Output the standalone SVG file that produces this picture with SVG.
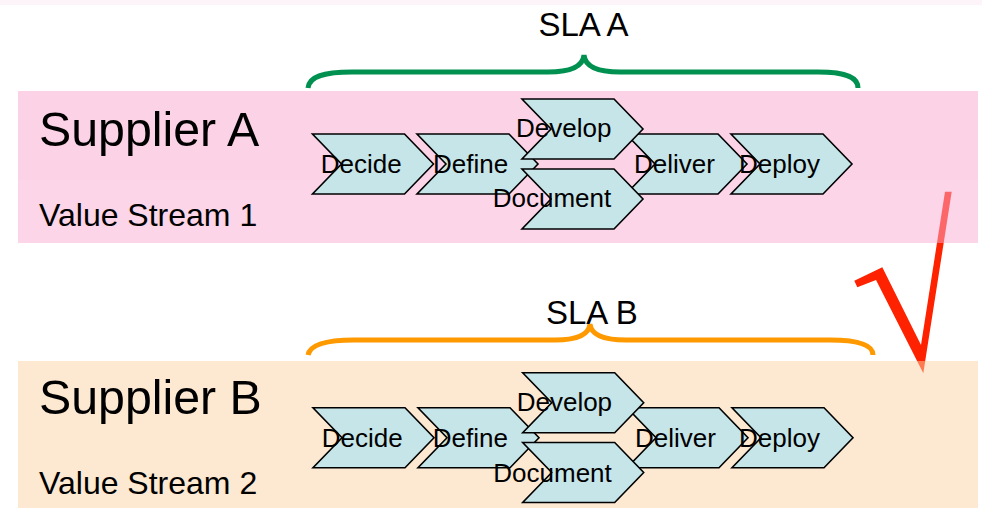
<svg xmlns="http://www.w3.org/2000/svg" width="982" height="508" viewBox="0 0 982 508">
  <defs>
    <style>
      .txt { font-family: "Liberation Sans", Arial, sans-serif; fill: #000; }
      .big { font-size: 48.3px; }
      .mid { font-size: 32px; }
      .sla { font-size: 33px; }
      .step { font-size: 26px; }
      .chev { fill: #c5e5e8; stroke: #000; stroke-width: 1.6; stroke-linejoin: miter; }
      .brace { fill: none; stroke-width: 5; stroke-linecap: butt; }
    </style>
    <!-- process step: 92 wide body, 29 deep point/notch, 60 high -->
    <polygon id="chevron" points="0,0 92,0 121,30 92,60 0,60 29,30"/>
  </defs>

  <rect x="0" y="0" width="982" height="508" fill="#ffffff"/>
  <rect x="0" y="0" width="982" height="5" fill="#fdf4f9"/>

  <!-- tick mark, drawn first so the translucent bands tint it -->
  <g id="tick">
    <polygon fill="#ff2200" points="854.3,280.7 882.3,267.3 921,345 945,191.7 951.7,191.7 923.3,373.3 876,280 857.3,287.3"/>
  </g>

  <!-- swimlane bands -->
  <g id="lane-a">
    <rect x="18" y="91" width="960" height="152" fill="#f9abd1" fill-opacity="0.5"/>
    <rect x="18" y="91" width="960" height="89" fill="#f2a0c8" fill-opacity="0.04"/>
    <text class="txt big" x="39" y="145.7">Supplier A</text>
    <text class="txt mid" x="39" y="225.7">Value Stream 1</text>
  </g>
  <g id="lane-b">
    <rect x="18" y="361" width="960" height="147" fill="#fbd1a5" fill-opacity="0.5"/>
    <text class="txt big" x="39" y="414.3">Supplier B</text>
    <text class="txt mid" x="39" y="494.3">Value Stream 2</text>
  </g>

  <!-- SLA brackets -->
  <g id="brackets">
    <path class="brace" stroke="#009150" d="M308,88 C309,77 322,72 352,72 L548,72 C572,72 583,66 584,55 C585,66 596,72 620,72 L818,72 C848,72 858,78 858,88"/>
    <path class="brace" stroke="#ff9900" d="M308,355 C310,345 324,340 354,340 L555,340 C579,340 589,334 590,324 C591,334 601,340 626,340 L830,340 C862,340 873,346 873,355"/>
  </g>
  <g id="sla-a"><text class="txt sla" x="538.5" y="35.7">SLA A</text></g>
  <g id="sla-b"><text class="txt sla" x="546" y="324.3">SLA B</text></g>

  <!-- value stream 1 steps -->
  <g id="a-decide"><use href="#chevron" class="chev" x="312.5" y="134"/><text class="txt step" x="320.7" y="172.7">Decide</text></g>
  <g id="a-define"><use href="#chevron" class="chev" x="417" y="134"/><text class="txt step" x="433" y="172.7">Define</text></g>
  <g id="a-deliver"><use href="#chevron" class="chev" x="626" y="134"/><text class="txt step" x="634" y="172.7">Deliver</text></g>
  <g id="a-deploy"><use href="#chevron" class="chev" x="731" y="134"/><text class="txt step" x="739" y="172.7">Deploy</text></g>
  <g id="a-develop"><use href="#chevron" class="chev" x="522" y="99"/><text class="txt step" x="516" y="136.7">Develop</text></g>
  <g id="a-document"><use href="#chevron" class="chev" x="522" y="169"/><text class="txt step" x="492.7" y="207">Document</text></g>

  <!-- value stream 2 steps -->
  <g id="b-decide"><use href="#chevron" class="chev" x="313" y="407.7"/><text class="txt step" x="321.7" y="447.3">Decide</text></g>
  <g id="b-define"><use href="#chevron" class="chev" x="418" y="407.7"/><text class="txt step" x="432.7" y="447.3">Define</text></g>
  <g id="b-deliver"><use href="#chevron" class="chev" x="627" y="407.7"/><text class="txt step" x="635" y="447.3">Deliver</text></g>
  <g id="b-deploy"><use href="#chevron" class="chev" x="732" y="407.7"/><text class="txt step" x="739" y="447.3">Deploy</text></g>
  <g id="b-develop"><use href="#chevron" class="chev" x="522.7" y="372.7"/><text class="txt step" x="516.7" y="411.3">Develop</text></g>
  <g id="b-document"><use href="#chevron" class="chev" x="522.7" y="442.5"/><text class="txt step" x="493.3" y="481.6">Document</text></g>
</svg>
